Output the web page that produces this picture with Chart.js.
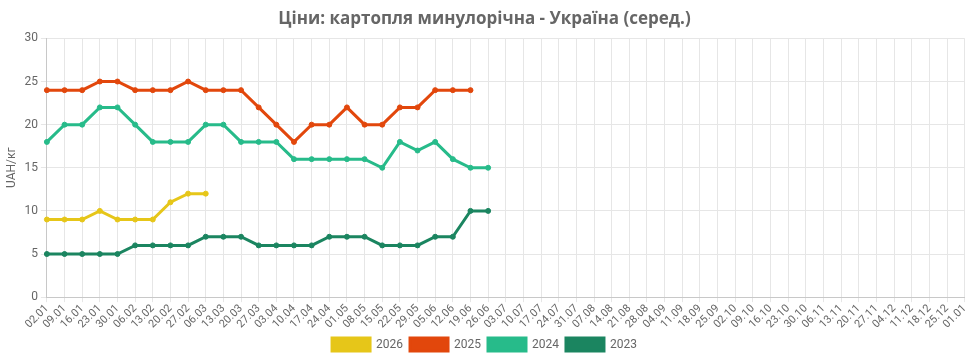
<!DOCTYPE html>
<html>
<head>
<meta charset="utf-8">
<script src="https://cdn.jsdelivr.net/npm/chart.js@4/dist/chart.umd.min.js"></script>
<style>
html,body{margin:0;padding:0;background:#fff;}
#wrap{width:974px;height:361px;}
</style>
</head>
<body>
<div id="wrap"><canvas id="c"></canvas></div>
<script>
const labels = ["02.01","09.01","16.01","23.01","30.01","06.02","13.02","20.02","27.02","06.03","13.03","20.03","27.03","03.04","10.04","17.04","24.04","01.05","08.05","15.05","22.05","29.05","05.06","12.06","19.06","26.06","03.07","10.07","17.07","24.07","31.07","07.08","14.08","21.08","28.08","04.09","11.09","18.09","25.09","02.10","09.10","16.10","23.10","30.10","06.11","13.11","20.11","27.11","04.12","11.12","18.12","25.12","01.01"];
const y2026 = [9,9,9,10,9,9,9,11,12,12];
const y2025 = [24,24,24,25,25,24,24,24,25,24,24,24,22,20,18,20,20,22,20,20,22,22,24,24,24];
const y2024 = [18,20,20,22,22,20,18,18,18,20,20,18,18,18,16,16,16,16,16,15,18,17,18,16,15,15];
const y2023 = [5,5,5,5,5,6,6,6,6,7,7,7,6,6,6,6,7,7,7,6,6,6,7,7,10,10];
const yTicks = [0,5,10,15,20,25,30];

function ds(label, data, color){
  return {label, data, borderColor: color, backgroundColor: color, pointBackgroundColor: color,
    pointBorderColor: color, borderWidth: 3, pointRadius: 2.5, pointBorderWidth: 1, pointHoverRadius: 4, tension: 0, fill: false};
}
new Chart(document.getElementById('c'), {
  type: 'line',
  data: { labels, datasets: [
    ds('2026', y2026, '#E6C619'),
    ds('2025', y2025, '#E2470C'),
    ds('2024', y2024, '#27BB8A'),
    ds('2023', y2023, '#1B8560')
  ]},
  options: {
    responsive: true, maintainAspectRatio: false, animation: false,
    layout: { padding: { left: 3, right: 8, top: 0, bottom: 0 } },
    plugins: {
      title: { display: true, text: 'Ціни: картопля минулорічна - Україна (серед.)', color: '#666',
        font: { family: 'Open Sans', size: 17, weight: 'bold' }, padding: { top: 9, bottom: 9 } },
      legend: { position: 'bottom', labels: { boxWidth: 38, boxHeight: 13, color: '#666',
        font: { family: 'Roboto', size: 12 }, padding: 7 } },
      tooltip: { enabled: false }
    },
    scales: {
      x: {
        grid: { color: '#e6e6e6', tickLength: 5 },
        border: { color: '#c8c8c8' },
        ticks: { color: '#666', font: { family: 'Roboto', size: 11 }, minRotation: 45, maxRotation: 45, autoSkip: false, padding: 0 }
      },
      y: {
        min: 0, max: 30,
        afterBuildTicks: (s) => { s.ticks = yTicks.map(v => ({ value: v })); },
        grid: { color: '#e6e6e6', tickLength: 6 },
        border: { color: '#c8c8c8' },
        title: { display: true, text: 'UAH/кг', color: '#666', font: { family: 'Roboto', size: 12 }, padding: 2 },
        ticks: { color: '#666', font: { family: 'Roboto', size: 12 } }
      }
    }
  }
});
</script>
</body>
</html>
